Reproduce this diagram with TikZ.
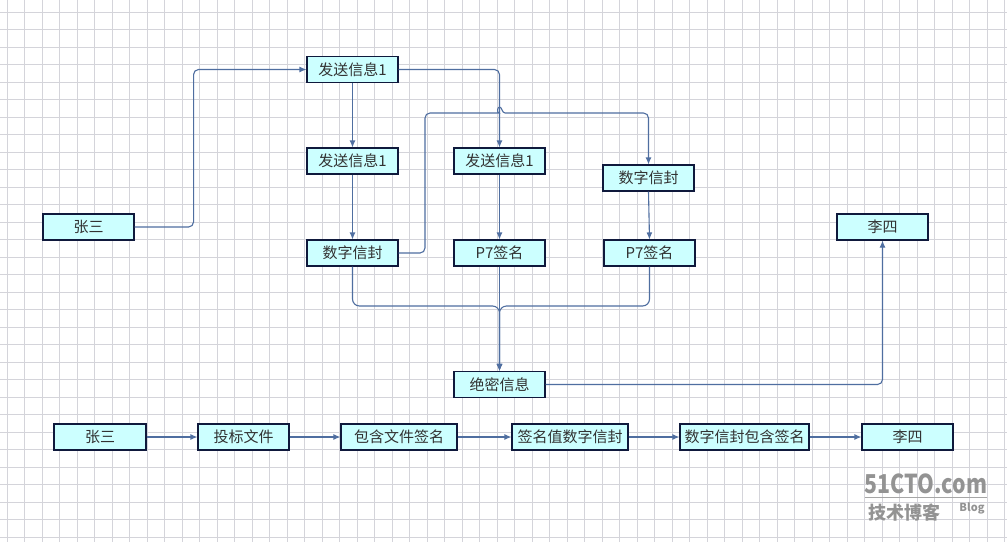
\documentclass[tikz,border=0pt]{standalone}
\usepackage{fontspec}
\setmainfont{Noto Sans CJK SC}
\usetikzlibrary{arrows.meta}
\definecolor{boxfill}{RGB}{204,255,255}
\definecolor{boxline}{RGB}{15,25,60}
\definecolor{wire}{RGB}{79,110,160}
\definecolor{gridc}{RGB}{212,212,218}
\definecolor{txt}{RGB}{50,50,50}
\begin{document}
\begin{tikzpicture}[x=1pt, y=-1pt,
  box/.style={draw=boxline, fill=boxfill, line width=1.1pt, minimum width=91pt,
    minimum height=26pt, inner sep=0pt, text=txt, font=\fontsize{15}{17}\selectfont},
  conn/.style={draw=wire, line width=1.1pt, rounded corners=5pt,
    -{Latex[length=7pt,width=6pt]}}]
\useasboundingbox (0,0) rectangle (1007,542);
\fill[white] (0,0) rectangle (1007,542);
% grid
\foreach \i in {0,...,57}
  \draw[gridc, line width=0.8pt] (7.3+17.5*\i,0) -- ++(0,542);
\foreach \j in {0,...,30}
  \draw[gridc, line width=0.8pt] (0,12.3+17.5*\j) -- ++(1007,0);

% upper diagram
\node[box] (zs) at (88.5,227) {张三};
\node[box] (fa) at (352.5,69.5) {发送信息1};
\node[box] (fb) at (352.5,161) {发送信息1};
\node[box] (sz) at (352.5,253) {数字信封};
\node[box] (fc) at (499.5,161) {发送信息1};
\node[box] (pm) at (499.5,253) {P7签名};
\node[box] (sr) at (648.5,178) {数字信封};
\node[box] (pr) at (649.5,253) {P7签名};
\node[box] (jm) at (499.5,384.5) {绝密信息};
\node[box] (ls) at (882.5,227) {李四};
\coordinate (m) at (499.5,306);

\draw[conn] (zs.east) -- ++(59,0) |- (fa.west);
\draw[conn] (fa.east) -| (fc.north);
\draw[conn] (fa) -- (fb);
\draw[conn] (fb) -- (sz);
\draw[conn] (sz.east) -| (425,113) -- (494,113) [sharp corners]
  .. controls (497,113) and (497,107) .. (499.5,107)
  .. controls (502,107) and (502,113) .. (505,113) [rounded corners=5pt]
  -| (sr.north);
\draw[conn] (fc) -- (pm);
\draw[conn] (sr.south) -- (pr.north);
\draw[conn, rounded corners=7pt] (sz.south) |- (m) -- (jm.north);
\draw[conn, rounded corners=7pt] (pr.south) |- (m) -- (jm.north);
\draw[conn] (pm) -- (jm);
\draw[conn] (jm.east) -| (ls.south);

% lower row
\node[box, minimum width=92pt] (b1) at (100,437) {张三};
\node[box] (b2) at (243.5,437) {投标文件};
\node[box, minimum width=116pt] (b3) at (399,437) {包含文件签名};
\node[box, minimum width=116pt] (b4) at (570,437) {签名值数字信封};
\node[box, minimum width=129pt] (b5) at (744.5,437) {数字信封包含签名};
\node[box] (b6) at (907.5,437) {李四};
\draw[conn] (b1) -- (b2);
\draw[conn] (b2) -- (b3);
\draw[conn] (b3) -- (b4);
\draw[conn] (b4) -- (b5);
\draw[conn] (b5) -- (b6);

% watermark
\node[text=gray!85, font=\fontsize{26}{26}\selectfont\bfseries, xscale=0.82, inner sep=0pt]
  (wm) at (926,484) {51CTO.com};
\draw[gray!70, line width=1.5pt] (865,497.5) -- (987,497.5);
\node[text=gray!85, font=\fontsize{18}{18}\selectfont\bfseries, inner sep=0pt]
  (wb) at (904,513) {技术博客};
\node[text=gray!85, font=\fontsize{11}{11}\selectfont\bfseries, inner sep=0pt]
  (wl) at (972,508) {Blog};
\end{tikzpicture}
\end{document}
